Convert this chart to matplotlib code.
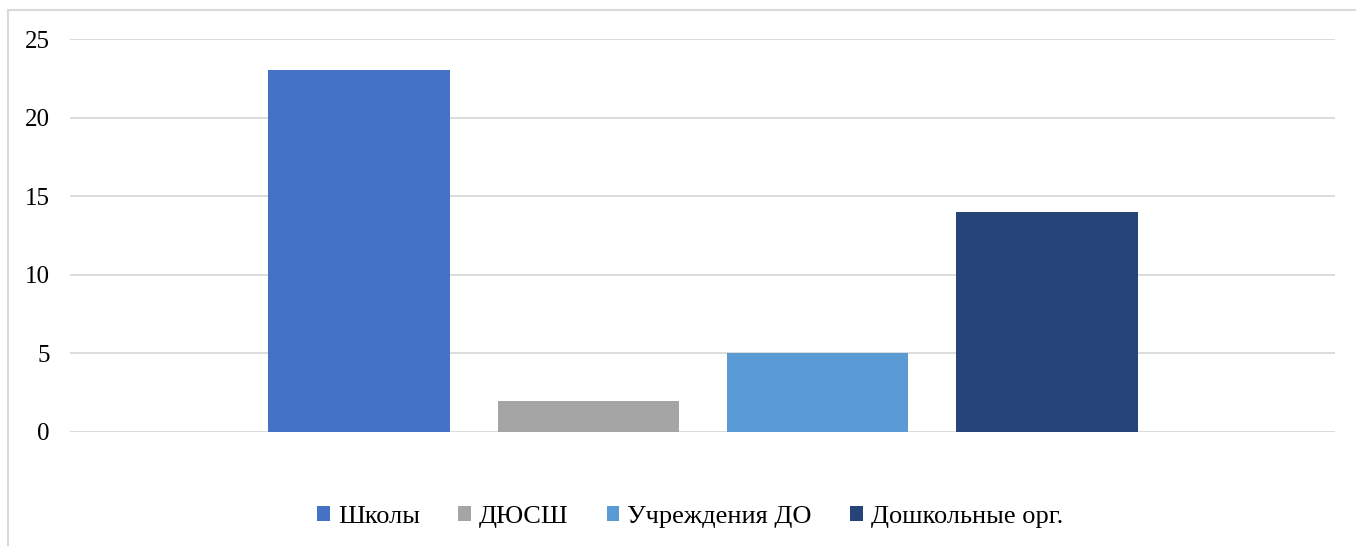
import matplotlib
matplotlib.use("Agg")
import matplotlib.pyplot as plt
from matplotlib.patches import Rectangle

series = ["Школы", "ДЮСШ", "Учреждения ДО", "Дошкольные орг."]
values = [23, 2, 5, 14]
colors = ["#4472C4", "#A5A5A5", "#5B9BD5", "#264478"]
yticks = [0, 5, 10, 15, 20, 25]

plt.rcParams['font.family'] = ['Liberation Serif', 'DejaVu Serif']

W, H = 1356, 546
fig = plt.figure(figsize=(W / 100, H / 100), dpi=100)
ax = fig.add_axes([70 / W, 114 / H, (1335 - 70) / W, (432 - 39) / H])

for i, (s, v, c) in enumerate(zip(series, values, colors)):
    ax.bar(i, v, width=0.79, color=c, label=s, zorder=3)

ax.set_xlim(-1.26, 4.256)
ax.set_ylim(0, 25)
ax.set_yticks(yticks)
ax.set_xticks([])
ax.yaxis.grid(True, color="#D9D9D9", linewidth=1.3, zorder=0)
for sp in ax.spines.values():
    sp.set_visible(False)
ax.tick_params(axis="y", length=0, pad=14.5, labelsize=18)

# chart frame (cropped at right and bottom in the reference)
fig.patches.append(Rectangle((8 / W, -0.1), 2, 1.1 - 10 / H, transform=fig.transFigure,
                             fill=False, edgecolor="#D9D9D9", linewidth=1.5))

leg = fig.legend(loc="center", bbox_to_anchor=(690 / W, 1 - 517 / H), ncol=4, frameon=False,
                 fontsize=19, handlelength=0.48, handleheight=0.48, handletextpad=0.3,
                 columnspacing=1.45)

fig.savefig("out.png", dpi=100)
